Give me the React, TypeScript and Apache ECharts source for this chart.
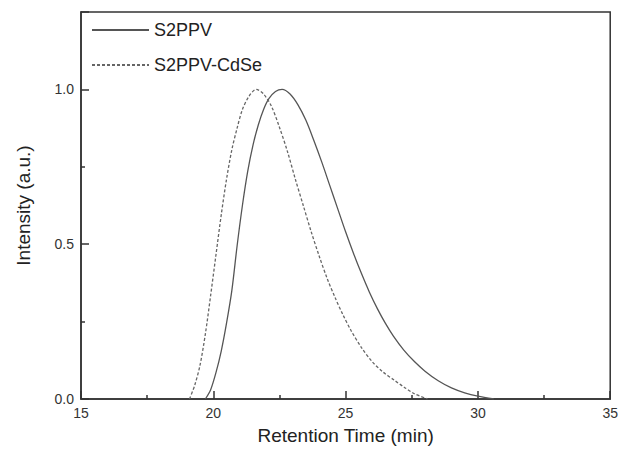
import React, { useEffect, useRef } from "react";
import * as echarts from "echarts";

const seriesNames = ["S2PPV", "S2PPV-CdSe"];

const s2ppvX = [19.7, 19.9, 20.1, 20.3, 20.5, 20.7, 20.9, 21.1, 21.3, 21.5, 21.7, 21.9, 22.1, 22.35, 22.6, 22.9, 23.2, 23.5, 23.8, 24.1, 24.4, 24.7, 25.0, 25.3, 25.6, 25.9, 26.2, 26.5, 26.8, 27.2, 27.6, 28.0, 28.5, 29.0, 29.5, 30.0, 30.6];
const s2ppvY = [0, 0.03, 0.085, 0.155, 0.245, 0.35, 0.495, 0.625, 0.735, 0.82, 0.885, 0.935, 0.97, 0.993, 1.0, 0.985, 0.95, 0.9, 0.835, 0.765, 0.69, 0.615, 0.54, 0.47, 0.405, 0.345, 0.292, 0.245, 0.204, 0.158, 0.121, 0.09, 0.059, 0.036, 0.02, 0.009, 0];

const cdseX = [19.1, 19.3, 19.5, 19.7, 19.9, 20.1, 20.3, 20.5, 20.7, 20.9, 21.1, 21.35, 21.62, 21.9, 22.2, 22.49, 22.8, 23.1, 23.4, 23.7, 24.0, 24.3, 24.6, 24.9, 25.2, 25.6, 26.0, 26.4, 26.85, 27.2, 27.6, 28.1];
const cdseY = [0, 0.045, 0.11, 0.21, 0.335, 0.465, 0.595, 0.71, 0.805, 0.875, 0.935, 0.978, 1.0, 0.985, 0.945, 0.88, 0.8, 0.71, 0.625, 0.54, 0.462, 0.39, 0.328, 0.272, 0.222, 0.166, 0.121, 0.088, 0.06, 0.039, 0.017, 0];

const xMin = 15;
const xMax = 35;
const xInterval = 5;
const yMin = 0;
const yMax = 1.25;
const yInterval = 0.5;

const FONT = "'Liberation Sans', Arial, sans-serif";

export default function App() {
  const ref = useRef<HTMLDivElement>(null);
  useEffect(() => {
    if (!ref.current) return;
    const chart = echarts.init(ref.current, undefined, { renderer: "svg" });
    const toPairs = (xs: number[], ys: number[]) => xs.map((x, i) => [x, ys[i]]);
    chart.setOption({
      animation: false,
      backgroundColor: "#ffffff",
      textStyle: { fontFamily: FONT },
      grid: {
        left: 81,
        right: 8,
        top: 12,
        bottom: 55,
        show: true,
        borderColor: "#333",
        borderWidth: 1.5,
        backgroundColor: "transparent",
      },
      legend: {
        orient: "vertical",
        left: 86,
        top: 14,
        itemWidth: 57,
        itemHeight: 14,
        itemGap: 13,
        itemStyle: { opacity: 0, borderWidth: 0 },
        textStyle: { fontSize: 18, color: "#222", fontFamily: FONT, lineHeight: 22 },
        data: seriesNames,
      },
      xAxis: {
        type: "value",
        min: xMin,
        max: xMax,
        interval: xInterval,
        name: "Retention Time (min)",
        nameLocation: "middle",
        nameGap: 27,
        nameTextStyle: { fontSize: 19, color: "#222", fontFamily: FONT },
        axisLine: { lineStyle: { color: "#333", width: 1.5 } },
        axisTick: { inside: true, length: 8, lineStyle: { color: "#333", width: 1.5 } },
        minorTick: { show: true, splitNumber: 2, length: 4, lineStyle: { color: "#333", width: 1.5 } },
        axisLabel: { fontSize: 14, color: "#333", margin: 7, fontFamily: FONT },
        splitLine: { show: false },
      },
      yAxis: {
        type: "value",
        min: yMin,
        max: yMax,
        interval: yInterval,
        name: "Intensity (a.u.)",
        nameLocation: "middle",
        nameGap: 48,
        nameTextStyle: { fontSize: 19, color: "#222", fontFamily: FONT },
        axisLine: { lineStyle: { color: "#333", width: 1.5 } },
        axisTick: { inside: true, length: 8, lineStyle: { color: "#333", width: 1.5 } },
        minorTick: { show: true, splitNumber: 2, length: 4, lineStyle: { color: "#333", width: 1.5 } },
        axisLabel: {
          fontSize: 14,
          color: "#333",
          margin: 7,
          fontFamily: FONT,
          showMaxLabel: false,
          formatter: (v: number) => (v > 1.01 ? "" : v.toFixed(1)),
        },
        splitLine: { show: false },
      },
      series: [
        {
          name: seriesNames[0],
          type: "line",
          data: toPairs(s2ppvX, s2ppvY),
          smooth: 0.3,
          symbol: "none",
          lineStyle: { color: "#555", width: 1.3, type: "solid" },
          itemStyle: { color: "#555" },
        },
        {
          name: seriesNames[1],
          type: "line",
          data: toPairs(cdseX, cdseY),
          smooth: 0.3,
          symbol: "none",
          lineStyle: { color: "#666", width: 1.3, type: [3, 2] },
          itemStyle: { color: "#666" },
        },
      ],
    });
    return () => chart.dispose();
  }, []);
  return <div ref={ref} style={{ width: 621, height: 454, position: "absolute", left: 0, top: 0 }} />;
}
